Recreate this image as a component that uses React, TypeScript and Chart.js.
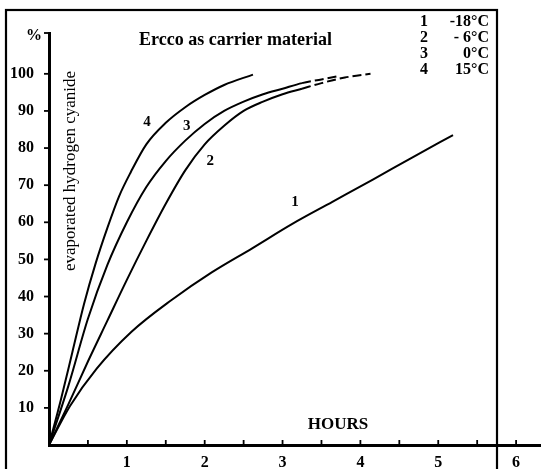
import React, { useEffect, useRef } from 'react';
import { Chart, registerables } from 'chart.js';

Chart.register(...registerables);

// ---- data (hours -> % evaporated HCN) ----
const curve1Hours = [0, 0.27, 0.61, 1.06, 1.57, 2.09, 2.61, 3.12, 3.64, 4.16, 4.67, 5.19];
const curve1Values = [0, 10.5, 20.5, 30.5, 39, 46.5, 53, 59.5, 65.5, 71.5, 77.5, 83.5];

const curve2Hours = [0, 0.25, 0.5, 0.75, 1.0, 1.25, 1.5, 1.75, 2.0, 2.25, 2.5, 2.75, 3.0, 3.25, 3.5, 3.8, 4.13];
const curve2Values = [0, 11, 22.5, 33.5, 44.5, 55, 65, 74, 81, 86, 90, 92.5, 94.5, 96, 97.5, 99, 100];

const curve3Hours = [0, 0.25, 0.5, 0.75, 1.0, 1.25, 1.5, 1.75, 2.0, 2.25, 2.5, 2.75, 3.0, 3.25, 3.5, 3.7];
const curve3Values = [0, 16, 34, 48.5, 60, 69.5, 76.5, 82, 86.5, 90, 92.5, 94.5, 96, 97.5, 98.5, 99.3];

const curve4Hours = [0, 0.15, 0.3, 0.45, 0.6, 0.75, 0.9, 1.05, 1.25, 1.5, 1.75, 2.0, 2.25, 2.62];
const curve4Values = [0, 12, 25, 38, 49, 58.5, 67, 73.5, 81, 86.8, 91, 94.3, 97, 99.8];

const curveNames = ['1', '2', '3', '4'];
const legendTemps = ['-18°C', '- 6°C', '0°C', '15°C'];
const curveLabelHours = [3.16, 2.07, 1.77, 1.26];
const curveLabelValues = [65.4, 76.6, 86.0, 86.9];
const dashFromHours = [99, 3.23, 3.12, 99];

const xTickValues = [0, 0.5, 1, 1.5, 2, 2.5, 3, 3.5, 4, 4.5, 5, 5.5, 6];
const xTickLabels = ['1', '2', '3', '4', '5', '6'];
const yTickValues = [10, 20, 30, 40, 50, 60, 70, 80, 90, 100];

const titleText = 'Ercco as carrier material';
const yTitleText = 'evaporated hydrogen cyanide';
const xTitleText = 'HOURS';
const unitText = '%';

const SERIF = '"Liberation Serif", "DejaVu Serif", serif';

const overlayPlugin = {
  id: 'overlay',
  beforeDraw(chart: any) {
    const ctx = chart.ctx;
    ctx.save();
    ctx.strokeStyle = '#000';
    ctx.lineWidth = 2.2;
    ctx.strokeRect(6, 10, 491, 500);
    ctx.restore();
  },
  afterDraw(chart: any) {
    const ctx = chart.ctx;
    const x = chart.scales.x;
    const y = chart.scales.y;
    ctx.save();
    ctx.strokeStyle = '#000';
    ctx.fillStyle = '#000';
    ctx.lineWidth = 1.8;
    // tick marks
    xTickValues.forEach((v) => {
      const px = x.getPixelForValue(v);
      ctx.beginPath();
      ctx.moveTo(px, y.bottom);
      ctx.lineTo(px, y.bottom - 5);
      ctx.stroke();
    });
    [...yTickValues, y.max].forEach((v) => {
      const py = y.getPixelForValue(v);
      ctx.beginPath();
      ctx.moveTo(x.left - 5, py);
      ctx.lineTo(x.left, py);
      ctx.stroke();
    });
    // texts
    ctx.textBaseline = 'middle';
    ctx.font = `bold 16px ${SERIF}`;
    ctx.textAlign = 'center';
    ctx.fillText(unitText, 34, 36);

    ctx.font = `bold 18px ${SERIF}`;
    ctx.textAlign = 'left';
    ctx.fillText(titleText, 139, 40);

    ctx.font = `bold 16px ${SERIF}`;
    curveNames.forEach((n, i) => {
      const ty = 22 + i * 16;
      ctx.textAlign = 'center';
      ctx.fillText(n, 424, ty);
      ctx.textAlign = 'right';
      ctx.fillText(legendTemps[i], 489, ty);
    });

    ctx.font = `bold 17px ${SERIF}`;
    ctx.textAlign = 'center';
    ctx.fillText(xTitleText, 338, 425);

    ctx.font = `bold 15px ${SERIF}`;
    curveNames.forEach((n, i) => {
      ctx.fillText(n, x.getPixelForValue(curveLabelHours[i]), y.getPixelForValue(curveLabelValues[i]));
    });

    ctx.save();
    ctx.translate(71, 171);
    ctx.rotate(-Math.PI / 2);
    ctx.font = `17px ${SERIF}`;
    ctx.textAlign = 'center';
    ctx.fillText(yTitleText, 0, 0);
    ctx.restore();

    ctx.restore();
  },
};

const seriesHours = [curve1Hours, curve2Hours, curve3Hours, curve4Hours];
const seriesValues = [curve1Values, curve2Values, curve3Values, curve4Values];

export default function App() {
  const ref = useRef<HTMLCanvasElement | null>(null);
  useEffect(() => {
    if (!ref.current) return;
    const datasets = seriesHours.map((hrs, i) => ({
      label: curveNames[i],
      data: hrs.map((h, j) => ({ x: h, y: seriesValues[i][j] })),
      borderColor: '#000',
      borderWidth: 2,
      pointRadius: 0,
      fill: false,
      cubicInterpolationMode: 'monotone' as const,
      segment: {
        borderDash: (c: any) => (c.p0.parsed.x >= dashFromHours[i] ? [9, 4] : undefined),
      },
    }));
    const chart = new Chart(ref.current, {
      type: 'line',
      data: { datasets },
      options: {
        animation: false,
        responsive: true,
        maintainAspectRatio: false,
        layout: { padding: { top: 33, left: 0, right: 0, bottom: 0 } },
        plugins: { legend: { display: false }, tooltip: { enabled: false }, title: { display: false } },
        scales: {
          x: {
            type: 'linear',
            min: 0,
            max: 6.32,
            grid: { display: false },
            border: { display: true, color: '#000', width: 3 },
            afterBuildTicks: (s: any) => {
              s.ticks = xTickValues.map((v) => ({ value: v }));
            },
            afterFit: (s: any) => {
              s.height = 24;
            },
            ticks: {
              autoSkip: false,
              maxRotation: 0,
              padding: 0,
              color: '#000',
              font: { family: SERIF, size: 16, weight: 'bold' },
              callback: (v: any) => (xTickLabels.includes(String(v)) ? String(v) : ''),
            },
          },
          y: {
            type: 'linear',
            min: 0,
            max: 111,
            grid: { display: false },
            border: { display: true, color: '#000', width: 3 },
            afterBuildTicks: (s: any) => {
              s.ticks = yTickValues.map((v) => ({ value: v }));
            },
            afterFit: (s: any) => {
              s.width = 49;
            },
            ticks: {
              padding: 7,
              color: '#000',
              font: { family: SERIF, size: 16, weight: 'bold' },
              callback: (v: any) => String(v),
            },
          },
        },
      },
      plugins: [overlayPlugin],
    });
    return () => chart.destroy();
  }, []);
  return (
    <div style={{ position: 'absolute', left: 0, top: 0, width: 541, height: 469, background: '#fff' }}>
      <canvas ref={ref} />
    </div>
  );
}
